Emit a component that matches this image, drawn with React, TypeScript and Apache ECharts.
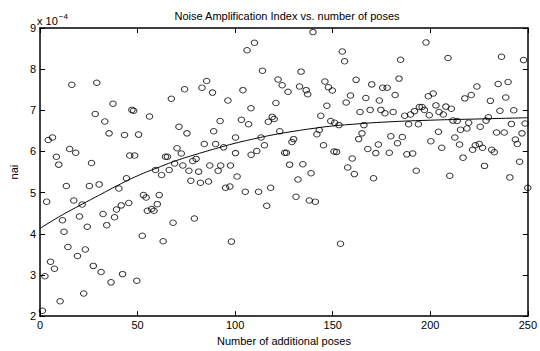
import React, { useEffect, useRef } from "react";
import * as echarts from "echarts";

// Scatter values (nai in units of 1e-4) vs. number of additional poses
const poseX: number[] = [
  16.3, 29.1, 37.4, 28.3, 47.1, 48.0, 33.2, 35.4, 43.3, 50.5, 4.2, 6.4, 15.2, 18.3, 8.4, 46.0, 48.5, 26.4, 9.6, 13.5,
  25.3, 30.3, 44.3, 40.4, 3.4, 17.3, 21.6, 45.5, 41.6, 39.2, 32.3, 38.2, 20.2, 11.5, 34.2, 24.2, 12.3, 14.3, 23.2, 19.2,
  5.4, 7.4, 27.3, 31.3, 42.3, 2.5, 36.4, 49.6, 22.4, 10.3, 1.2,
  85.4, 74.1, 83.0, 88.4, 67.3, 96.3, 56.1, 92.3, 71.2, 75.3, 89.0, 100.2, 84.2, 90.0, 94.1, 70.2, 72.4, 100.2, 64.3, 65.3,
  80.0, 78.3, 69.0, 73.2, 87.0, 92.6, 97.6,
  59.2, 66.2, 62.3, 76.3, 81.3, 91.3, 77.3, 82.2, 86.4, 95.1, 97.3, 101.0, 53.0, 54.4, 61.1, 60.1, 57.2, 58.4, 55.0, 68.2,
  79.1, 52.4, 63.1, 98.1,
  139.9, 109.9, 106.1, 114.0, 133.8, 122.0, 124.1, 127.1, 133.0, 136.4, 137.2, 146.0, 147.8, 149.8, 104.0, 108.1, 120.9,
  147.0, 143.9, 103.2, 106.9, 119.0, 120.0, 117.0, 149.0, 122.9, 143.1, 141.9, 113.3, 130.0, 129.1, 115.0, 145.3, 111.1,
  108.2, 125.4, 126.3, 150.7, 127.9, 134.7,
  105.2, 112.0, 118.2, 116.2, 138.9, 132.2, 131.2, 138.0, 141.1,
  197.8, 154.9, 156.1, 184.8, 162.0, 184.0, 170.0, 175.6, 177.9, 159.1, 167.0, 156.9, 173.9, 182.0, 199.0, 201.5, 164.0,
  169.2, 174.7, 176.8, 181.0, 186.9, 189.9, 191.9, 194.4, 195.8, 197.0, 199.5, 151.0, 153.2, 166.0, 188.9, 193.9, 165.0,
  163.3, 179.8, 185.7, 183.2, 173.4, 200.3, 152.0, 168.0, 172.1, 179.0, 188.0, 191.0, 160.0, 157.7, 161.1, 170.9, 192.8,
  154.0,
  236.5, 209.1, 247.8, 239.9, 234.8, 223.9, 221.0, 217.7, 238.7, 230.8, 202.9, 208.0, 210.8, 204.5, 206.7, 235.7, 242.8,
  229.8, 228.6, 211.6, 213.8, 219.7, 241.6, 248.6, 215.5, 218.8, 225.6, 204.2, 234.0, 237.9, 247.0, 212.6, 243.6, 244.6,
  215.0, 205.9, 223.1, 225.1, 226.8, 221.7, 231.5, 232.8, 216.8, 245.8, 227.8, 210.0, 240.8, 250.0,
];

const naiY: number[] = [
  7.62, 7.67, 7.16, 6.91, 7.01, 6.99, 6.73, 6.44, 6.40, 6.41, 6.28, 6.34, 6.06, 5.97, 5.87, 5.90, 5.90, 5.72, 5.68, 5.16,
  5.16, 5.20, 5.35, 5.10, 4.78, 4.81, 4.71, 4.75, 4.69, 4.59, 4.48, 4.40, 4.42, 4.33, 4.21, 4.17, 4.05, 3.68, 3.62, 3.46,
  3.32, 3.15, 3.22, 3.07, 3.02, 2.97, 2.82, 2.86, 2.55, 2.36, 2.13,
  7.71, 7.51, 7.55, 7.43, 7.28, 7.24, 6.85, 6.74, 6.60, 6.44, 6.49, 6.34, 6.18, 6.18, 6.10, 6.08, 5.95, 5.96, 5.87, 5.87,
  5.82, 5.77, 5.71, 5.66, 5.66, 5.66, 5.66,
  5.55, 5.55, 5.43, 5.53, 5.51, 5.53, 5.29, 5.24, 5.27, 5.12, 5.15, 5.39, 4.94, 4.88, 4.94, 4.72, 4.60, 4.56, 4.56, 4.27,
  4.37, 3.95, 3.82, 3.81,
  8.90, 8.64, 8.46, 7.96, 7.94, 7.75, 7.61, 7.45, 7.58, 7.49, 7.39, 7.70, 7.56, 7.48, 7.49, 7.05, 7.18,
  7.11, 6.87, 6.77, 6.66, 6.84, 6.79, 6.72, 6.74, 6.49, 6.52, 6.42, 6.34, 6.30, 6.23, 6.15, 6.15, 6.01,
  5.92, 5.97, 5.97, 6.00, 5.68, 5.69,
  5.02, 5.02, 5.12, 4.68, 5.47, 5.32, 4.90, 4.81, 4.78,
  8.65, 8.43, 8.19, 8.23, 7.74, 7.77, 7.63, 7.55, 7.55, 7.36, 7.30, 7.19, 7.24, 7.37, 7.34, 7.41, 6.96,
  7.01, 7.01, 6.93, 6.96, 6.87, 6.90, 6.98, 7.08, 7.08, 7.01, 6.88, 6.70, 6.64, 6.64, 6.66, 6.66, 6.44,
  6.30, 6.37, 6.35, 6.20, 6.17, 6.25, 5.99, 6.06, 5.96, 5.97, 5.93, 5.95, 5.83, 5.61, 5.45, 5.35, 5.53,
  3.76,
  8.30, 8.27, 8.22, 7.69, 7.64, 7.58, 7.37, 7.29, 7.31, 7.23, 7.12, 7.09, 7.04, 6.96, 6.90, 6.99, 7.00,
  6.83, 6.75, 6.75, 6.74, 6.70, 6.67, 6.68, 6.53, 6.56, 6.60, 6.48, 6.46, 6.46, 6.44, 6.34, 6.29, 6.18,
  6.17, 6.09, 6.15, 6.18, 6.09, 6.04, 6.04, 5.98, 5.85, 5.75, 5.65, 5.41, 5.37, 5.12,
];

// Fitted curve
const curveX: number[] = [0, 10, 20, 30, 40, 50, 60, 70, 80, 90, 100, 110, 120, 130, 140, 150, 160, 175, 200, 225, 250];
const curveY: number[] = [4.13, 4.42, 4.68, 4.93, 5.18, 5.41, 5.6, 5.78, 5.93, 6.07, 6.2, 6.31, 6.41, 6.49, 6.56, 6.62, 6.66, 6.71, 6.76, 6.79, 6.82];

const TITLE = "Noise Amplification Index vs. number of poses";
const X_NAME = "Number of additional poses";
const Y_NAME = "nai";

const FONT = "'Liberation Sans', Arial, Helvetica, sans-serif";

export default function App() {
  const ref = useRef<HTMLDivElement>(null);
  useEffect(() => {
    document.body.style.margin = "0";
    if (!ref.current) return;
    const chart = echarts.init(ref.current, undefined, { renderer: "svg" });
    const scatterData = poseX.map((x, i) => [x, naiY[i]]);
    const curveData = curveX.map((x, i) => [x, curveY[i]]);
    const axisLine = { show: true, onZero: false, lineStyle: { color: "#000", width: 1.5 } };
    const tick = { show: true, inside: true, length: 5, lineStyle: { color: "#000", width: 1 } };
    chart.setOption({
      animation: false,
      backgroundColor: "#fff",
      textStyle: { fontFamily: FONT },
      title: {
        text: TITLE,
        left: 282,
        textAlign: "center",
        top: 5,
        textStyle: { fontSize: 11, fontWeight: "normal", color: "#000", fontFamily: FONT },
      },
      grid: { left: 35, right: 10, top: 28, bottom: 28, containLabel: false },
      xAxis: [
        {
          type: "value",
          min: 0,
          max: 250,
          interval: 50,
          position: "bottom",
          axisLine,
          axisTick: tick,
          axisLabel: { color: "#000", fontSize: 11, margin: 3, fontFamily: FONT },
          splitLine: { show: false },
          name: X_NAME,
          nameLocation: "middle",
          nameGap: 17,
          nameTextStyle: { color: "#000", fontSize: 11, fontFamily: FONT },
        },
        {
          type: "value",
          min: 0,
          max: 250,
          interval: 50,
          position: "top",
          axisLine,
          axisTick: tick,
          axisLabel: { show: false },
          splitLine: { show: false },
        },
      ],
      yAxis: [
        {
          type: "value",
          min: 2,
          max: 9,
          interval: 1,
          position: "left",
          axisLine,
          axisTick: tick,
          axisLabel: { color: "#000", fontSize: 11, margin: 4, fontFamily: FONT },
          splitLine: { show: false },
          name: Y_NAME,
          nameLocation: "middle",
          nameGap: 18,
          nameTextStyle: { color: "#000", fontSize: 11, fontFamily: FONT },
        },
        {
          type: "value",
          min: 2,
          max: 9,
          interval: 1,
          position: "right",
          axisLine,
          axisTick: tick,
          axisLabel: { show: false },
          splitLine: { show: false },
        },
      ],
      graphic: [
        {
          type: "text",
          left: 37,
          top: 12,
          style: {
            text: "{a|x 10}{b|−4}",
            rich: {
              a: { fontSize: 11, fill: "#000", fontFamily: FONT, verticalAlign: "bottom", lineHeight: 14 },
              b: { fontSize: 8, fill: "#000", fontFamily: FONT, verticalAlign: "top", lineHeight: 14, padding: [0, 0, 8, 1] },
            },
          },
        },
      ],
      series: [
        {
          type: "scatter",
          data: scatterData,
          symbol: "circle",
          symbolSize: [6.5, 5.5],
          itemStyle: { color: "rgba(255,255,255,0)", borderColor: "#000", borderWidth: 1 },
          z: 3,
        },
        {
          type: "line",
          data: curveData,
          smooth: true,
          showSymbol: false,
          symbol: "none",
          lineStyle: { color: "#000", width: 1 },
          z: 2,
        },
      ],
    });
    return () => chart.dispose();
  }, []);
  return <div ref={ref} style={{ width: 540, height: 351 }} />;
}
